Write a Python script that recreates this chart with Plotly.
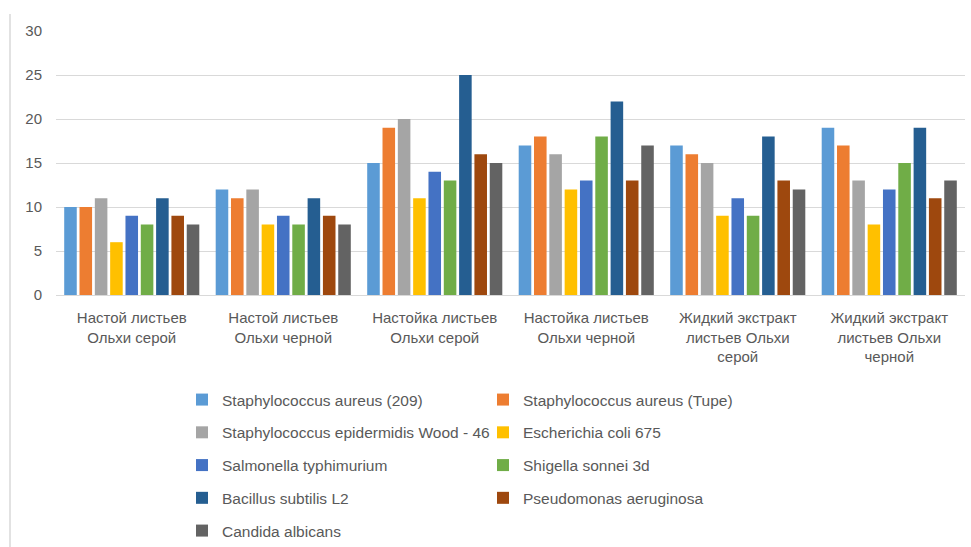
import plotly.graph_objects as go

categories = [
    "Настой листьев<br>Ольхи серой",
    "Настой листьев<br>Ольхи черной",
    "Настойка листьев<br>Ольхи серой",
    "Настойка листьев<br>Ольхи черной",
    "Жидкий экстракт<br>листьев Ольхи<br>серой",
    "Жидкий экстракт<br>листьев Ольхи<br>черной",
]

series_names = [
    "Staphylococcus aureus (209)",
    "Staphylococcus aureus (Tupe)",
    "Staphylococcus epidermidis Wood - 46",
    "Escherichia coli 675",
    "Salmonella typhimurium",
    "Shigella sonnei 3d",
    "Bacillus subtilis L2",
    "Pseudomonas aeruginosa",
    "Candida albicans",
]

staph_aureus_209 = [10, 12, 15, 17, 17, 19]
staph_aureus_tupe = [10, 11, 19, 18, 16, 17]
staph_epidermidis = [11, 12, 20, 16, 15, 13]
e_coli = [6, 8, 11, 12, 9, 8]
salmonella = [9, 9, 14, 13, 11, 12]
shigella = [8, 8, 13, 18, 9, 15]
bacillus = [11, 11, 25, 22, 18, 19]
pseudomonas = [9, 9, 16, 13, 13, 11]
candida = [8, 8, 15, 17, 12, 13]

series_values = [staph_aureus_209, staph_aureus_tupe, staph_epidermidis, e_coli,
                 salmonella, shigella, bacillus, pseudomonas, candida]

colors = ["#5B9BD5", "#ED7D31", "#A5A5A5", "#FFC000", "#4472C4",
          "#70AD47", "#255E91", "#9E480E", "#636363"]

y_ticks = [0, 5, 10, 15, 20, 25, 30]

FONT = "Liberation Sans"
GRAY = "#595959"

fig = go.Figure()
for i, (name, vals) in enumerate(zip(series_names, series_values)):
    fig.add_trace(go.Bar(
        x=categories, y=vals, name=name,
        marker=dict(color=colors[i], line=dict(width=0)),
        legend="legend" if i % 2 == 0 else "legend2",
        legendgroup=f"g{i}",
    ))

legend_common = dict(
    font=dict(family=FONT, size=15.5, color=GRAY),
    bgcolor="rgba(0,0,0,0)",
    orientation="v",
    traceorder="grouped",
    tracegroupgap=9.6,
    xref="container",
    yref="container",
    y=1 - 383 / 547,
    yanchor="top",
    xanchor="left",
    itemclick=False,
)

fig.update_layout(
    width=971, height=547,
    margin=dict(l=56, r=6, t=31, b=252, autoexpand=False),
    paper_bgcolor="white",
    plot_bgcolor="white",
    barmode="group",
    bargap=0.09,
    bargroupgap=0.18,
    font=dict(family=FONT, size=14, color=GRAY),
    xaxis=dict(
        showgrid=False, showline=True, linecolor="#D9D9D9", linewidth=1,
        ticks="", tickfont=dict(family=FONT, size=15, color=GRAY),
        ticklabelstandoff=9,
    ),
    yaxis=dict(
        range=[0, 30], tickvals=y_ticks, showgrid=True, gridcolor="#D9D9D9",
        gridwidth=1, zeroline=False, showline=False, ticks="",
        tickfont=dict(family=FONT, size=15, color=GRAY),
        ticklabelstandoff=13,
    ),
    legend=dict(x=182 / 971, **legend_common),
    legend2=dict(x=483 / 971, **legend_common),
    showlegend=True,
)

# chart-area border on the left
fig.add_shape(type="line", xref="paper", yref="paper",
              x0=-0.0506, x1=-0.0506, y0=1.064, y1=-0.96,
              line=dict(color="#D9D9D9", width=1.5))

fig.write_html("out.html",
               config={"displayModeBar": False},
               post_script="document.body.style.margin='0';document.body.style.padding='0';")
